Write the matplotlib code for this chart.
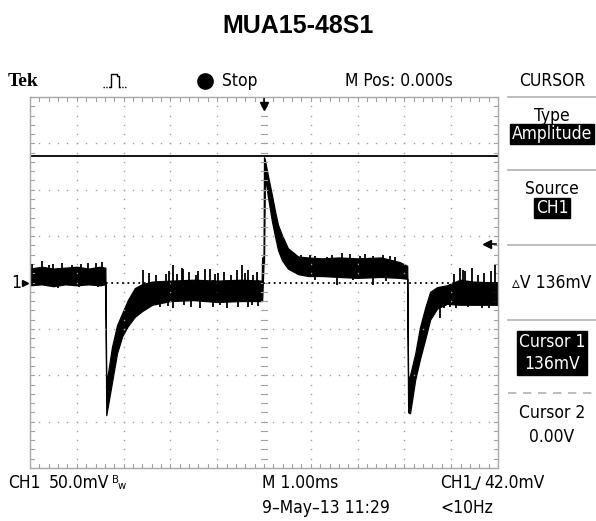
import matplotlib
matplotlib.use('Agg')
import matplotlib.pyplot as plt
from matplotlib import font_manager
import numpy as np

# Fuente estrecha para los textos del osciloscopio
fuentes = font_manager.fontManager.ttflist
nombres = {f.name for f in fuentes}
kw_font = {}
if 'Liberation Sans Narrow' in nombres:
    SCOPE, SCOPE_FS = 'Liberation Sans Narrow', 13
elif any(f.name == 'DejaVu Sans' and f.stretch == 'condensed' for f in fuentes):
    SCOPE, SCOPE_FS = 'DejaVu Sans', 12.5
    kw_font = {'fontstretch': 'condensed'}
else:
    SCOPE, SCOPE_FS = 'DejaVu Sans', 10.5

# Datos (tiempo en ms, tension en mV)
t_env = [-5.00, -4.75, -4.50, -4.25, -4.00, -3.75, -3.50, -3.39,
         -3.37, -3.25, -3.14, -3.03, -2.91, -2.76, -2.61, -2.39,
         -2.00, -1.50, -1.00, -0.50, -0.05,
         -0.04, -0.01, 0.00, 0.02, 0.085, 0.17, 0.235, 0.30, 0.385,
         0.51, 0.73, 0.94, 1.24, 1.60, 2.00, 2.50, 2.90, 3.06,
         3.08, 3.12, 3.23, 3.33, 3.44, 3.55, 3.70, 3.91, 4.19, 4.47, 5.00]
hi_env = [15, 17, 15, 16, 17, 15, 17, 16,
          -110, -70, -46, -33, -19, -6, -2, 1,
          2, 3, 2, 3, 2,
          27, 27, 135, 132, 115, 94, 77, 62, 51,
          37, 28, 27, 26, 27, 26, 27, 22, 18,
          -105, -100, -77, -49, -28, -10, -5, -3, 3, 1, 0]
lo_env = [-3, -2, -4, -2, -3, -2, -3, -2,
          -143, -108, -76, -58, -47, -37, -31, -24,
          -20, -19, -21, -20, -20,
          -20, 20, 22, 115, 92, 66, 50, 35, 24,
          15, 9, 7, 7, 6, 5, 6, 5, 4,
          -140, -141, -105, -83, -62, -40, -28, -23, -24, -24, -24]

pico_sup_t = [-4.95, -4.74, -4.60, -4.50, -4.31, -4.10, -3.90, -3.76, -3.60, -3.46,
              -2.59, -2.45, -2.30, -2.10, -2.02, -1.94, -1.85, -1.75, -1.73,
              -1.60, -1.45, -1.40, -1.26, -1.15, -1.05, -0.98, -0.85, -0.70,
              -0.58, -0.47, -0.40, -0.34, -0.24, -0.15,
              0.80, 0.98, 1.10, 1.35, 1.45, 1.67, 1.84, 2.05, 2.15, 2.33, 2.54,
              2.70, 2.80,
              4.05, 4.19, 4.25, 4.30, 4.44, 4.57, 4.70, 4.85, 4.94]
pico_sup_v = [20, 23, 19, 20, 21, 19, 20, 21, 21, 22,
              13, 10, 8, 9, 12, 19, 9, 16, 15,
              11, 8, 12, 15, 15, 9, 10, 11, 8,
              14, 19, 10, 14, 8, 11,
              30, 30, 29, 28, 30, 32, 31, 29, 31, 29, 30,
              29, 28,
              9, 16, 14, 12, 16, 8, 10, 12, 19]
pico_inf_t = [-4.40, -3.95, -3.55,
              -2.59, -2.40, -2.23, -2.05, -1.94, -1.70, -1.55, -1.36, -1.10,
              -0.95, -0.79, -0.56, -0.35, -0.25, -0.13,
              1.10, 1.56, 1.90, 2.33, 2.60,
              3.76, 3.85, 3.98, 4.10, 4.35, 4.66, 4.80, 4.98]
pico_inf_v = [-6, -5, -5,
              -27, -24, -26, -25, -27, -24, -26, -27, -26,
              -24, -28, -26, -26, -24, -25,
              3, -3, 3, -3, 2,
              -38, -28, -26, -28, -26, -27, -28, -25]

cursor1 = 136      # mV
cursor2 = 0.0      # mV
disparo = 42.0     # mV

fig = plt.figure(figsize=(5.96, 5.21), dpi=100)

W, H = 596.0, 521.0
x0, x1, y0, y1 = 30, 498, 97, 468   # reticula en pixeles
ax = fig.add_axes([x0 / W, 1 - y1 / H, (x1 - x0) / W, (y1 - y0) / H])
ax.set_xlim(-5, 5)
ax.set_ylim(-200, 200)
ax.set_xticks([])
ax.set_yticks([])
for s in ax.spines.values():
    s.set_color('#a8a8a8')
    s.set_linewidth(1.0)

gris = '#a0a0a0'
# puntos de la reticula
for xv in range(-4, 5):
    if xv == 0:
        continue
    yy = np.arange(-200, 201, 10)
    ax.plot([xv] * len(yy), yy, ls='none', marker='s', ms=1.0, color=gris, mew=0)
for yv in range(-150, 151, 50):
    if yv == 0:
        continue
    xx = np.arange(-5, 5.01, 0.2)
    ax.plot(xx, [yv] * len(xx), ls='none', marker='s', ms=1.0, color=gris, mew=0)
# marcas en el eje central y en los bordes
for yv in np.arange(-200, 201, 10):
    ax.plot([-0.06, 0.06], [yv, yv], color=gris, lw=0.8)
    ax.plot([-5, -4.91], [yv, yv], color=gris, lw=0.8)
    ax.plot([4.91, 5], [yv, yv], color=gris, lw=0.8)
for xv in np.arange(-5, 5.01, 0.2):
    ax.plot([xv, xv], [196, 200], color=gris, lw=0.8)
    ax.plot([xv, xv], [-200, -196], color=gris, lw=0.8)

# cursores
ax.axhline(cursor1, color='black', lw=1.3)
ax.axhline(cursor2, color='black', lw=1.3, dashes=(1, 2))

# traza
ax.fill_between(t_env, lo_env, hi_env, color='black', lw=0.9)
ax.vlines(pico_sup_t, np.interp(pico_sup_t, t_env, lo_env), pico_sup_v, color='black', lw=1.3)
ax.vlines(pico_inf_t, pico_inf_v, np.interp(pico_inf_t, t_env, hi_env), color='black', lw=1.3)

# capa superpuesta en pixeles para la interfaz del osciloscopio
ov = fig.add_axes([0, 0, 1, 1])
ov.set_xlim(0, W)
ov.set_ylim(H, 0)
ov.axis('off')

fig.text(0.5, 1 - 26 / H, 'MUA15-48S1', ha='center', va='center',
         fontsize=18, fontweight='bold', family='Liberation Sans')

kw = dict(family=[SCOPE, 'DejaVu Sans'], fontsize=SCOPE_FS, va='center', **kw_font)
kw_small = dict(family=[SCOPE, 'DejaVu Sans'], fontsize=SCOPE_FS * 0.65, va='center', **kw_font)
ov.text(8, 82, 'Tek', family='Liberation Serif', fontweight='bold', fontsize=14, va='center')
ov.plot([103, 110], [87, 87], color='black', lw=1, dashes=(1, 1))
ov.plot([110, 111, 111, 117, 117, 119, 119], [87, 87, 74, 74, 76, 76, 87], color='black', lw=1)
ov.plot([119, 126], [87, 87], color='black', lw=1, dashes=(1, 1))
ov.plot([205], [81], marker='o', ms=11, color='black')
ov.text(222, 81, 'Stop', **kw)
ov.text(345, 81, 'M Pos: 0.000s', **kw)
ov.text(552, 81, 'CURSOR', ha='center', **kw)

# flechas y marcador de canal
ov.text(16, 283, '1', ha='center', **kw)
ov.plot([25], [283], marker='>', ms=4, color='black')
ov.plot([264, 264], [99, 106], color='black', lw=1.2)
ov.plot([264], [106], marker='v', ms=6, color='black')
y_trig = y0 + (200 - disparo) / 400 * (y1 - y0)
ov.plot([488, 496], [y_trig, y_trig], color='black', lw=1.2)
ov.plot([487], [y_trig], marker='<', ms=6, color='black')

# panel derecho
cx = 552
for yl in [97, 170, 245, 320]:
    ov.plot([508, 596], [yl, yl], color='#b0b0b0', lw=1.2)
ov.plot([508, 596], [393, 393], color='#b0b0b0', lw=1.2, dashes=(5, 4))
ov.text(cx, 116, 'Type', ha='center', **kw)
ov.text(cx, 134, 'Amplitude', ha='center', color='white',
        bbox=dict(boxstyle='square,pad=0.08', fc='black', ec='black'), **kw)
ov.text(cx, 189, 'Source', ha='center', **kw)
ov.text(cx, 208, 'CH1', ha='center', color='white',
        bbox=dict(boxstyle='square,pad=0.08', fc='black', ec='black'), **kw)
ov.text(cx, 283, '\u25b5V 136mV', ha='center', **kw)
ov.text(cx, 353, 'Cursor 1\n136mV', ha='center', color='white', linespacing=1.25,
        bbox=dict(boxstyle='square,pad=0.12', fc='black', ec='black'), **kw)
ov.text(cx, 413, 'Cursor 2', ha='center', **kw)
ov.text(cx, 437, '0.00V', ha='center', **kw)

# textos inferiores
ov.text(8, 483, 'CH1', **kw)
ov.text(49, 483, '50.0mV', **kw)
ov.text(112, 480, 'B', **kw_small)
ov.text(118, 486, 'w', **kw_small)
ov.text(262, 483, 'M 1.00ms', **kw)
ov.text(440, 483, 'CH1', **kw)
ov.plot([472, 476, 480], [489, 489, 477], color='black', lw=1)
ov.text(484, 483, '42.0mV', **kw)
ov.text(262, 508, '9\u2013May\u201313 11:29', **kw)
ov.text(440, 508, '<10Hz', **kw)

plt.savefig('out.png', dpi=100)
